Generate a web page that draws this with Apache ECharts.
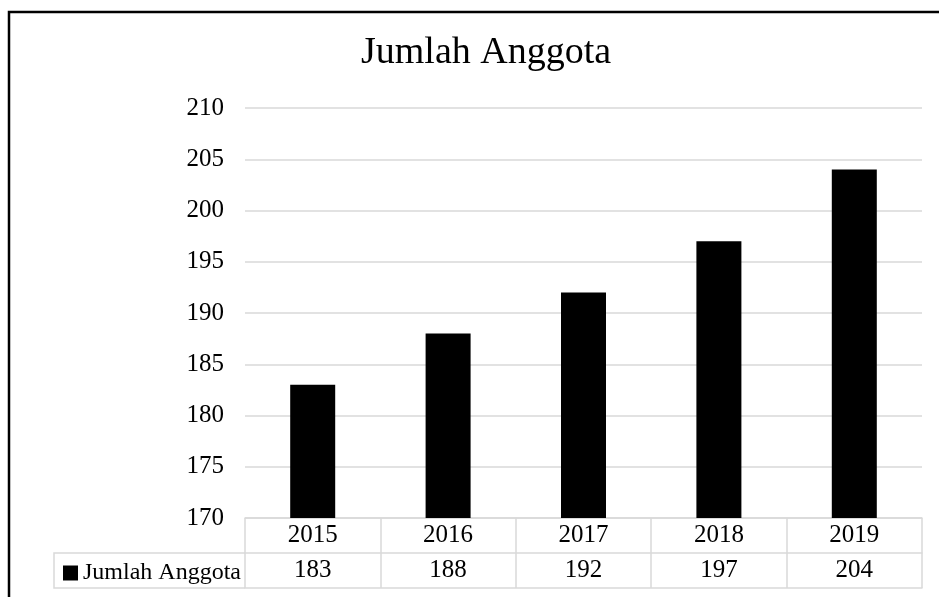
<!DOCTYPE html>
<html>
<head>
<meta charset="utf-8">
<script src="https://cdn.jsdelivr.net/npm/echarts@6/dist/echarts.min.js"></script>
<style>
html,body{margin:0;padding:0;background:#fff;}
#chart{width:939px;height:597px;}
</style>
</head>
<body>
<div id="chart"></div>
<script>
const titleText = 'Jumlah Anggota';
const seriesName = 'Jumlah Anggota';
const years = ['2015', '2016', '2017', '2018', '2019'];
const values = [183, 188, 192, 197, 204];
const yMin = 170, yMax = 210, yStep = 5;

const FONT = "'Liberation Serif', 'Times New Roman', serif";
const GRID_COLOR = '#d9d9d9';
const gridLeft = 245, gridRight = 17, gridTop = 108, gridBottom = 79;
const rowH = 35;
const H = 597;
const axisY = H - gridBottom;

const chart = echarts.init(document.getElementById('chart'));
chart.setOption({
  animation: false,
  backgroundColor: '#fff',
  title: {
    text: titleText,
    left: 356,
    top: 29,
    textStyle: {fontFamily: FONT, fontSize: 38, fontWeight: 'normal', color: '#000'}
  },
  legend: {
    data: [seriesName],
    left: 58,
    top: axisY + rowH + 3,
    icon: 'rect',
    itemWidth: 15,
    itemHeight: 15,
    textStyle: {fontFamily: FONT, fontSize: 24, color: '#000'}
  },
  grid: {left: gridLeft, right: gridRight, top: gridTop, bottom: gridBottom},
  xAxis: [
    {
      type: 'category', data: years, position: 'bottom',
      axisLine: {lineStyle: {color: GRID_COLOR, width: 1.5}},
      axisTick: {show: true, length: rowH * 2, lineStyle: {color: GRID_COLOR, width: 1.5}},
      axisLabel: {fontFamily: FONT, fontSize: 25, color: '#000', margin: 5, lineHeight: 25}
    },
    {
      type: 'category', data: years, position: 'bottom', offset: rowH,
      axisLine: {show: true, lineStyle: {color: GRID_COLOR, width: 1.5}},
      axisTick: {show: false},
      axisLabel: {fontFamily: FONT, fontSize: 25, color: '#000', margin: 5, lineHeight: 25,
        formatter: (v, i) => String(values[i])}
    },
    {
      type: 'category', data: years, position: 'bottom', offset: rowH * 2,
      axisLine: {show: true, lineStyle: {color: GRID_COLOR, width: 1.5}},
      axisTick: {show: false},
      axisLabel: {show: false}
    }
  ],
  yAxis: {
    type: 'value', min: yMin, max: yMax, interval: yStep,
    axisLine: {show: false}, axisTick: {show: false},
    axisLabel: {fontFamily: FONT, fontSize: 25, color: '#000', margin: 21},
    splitLine: {lineStyle: {color: GRID_COLOR, width: 1.5}}
  },
  series: [{
    name: seriesName, type: 'bar', data: values, barWidth: 45,
    itemStyle: {color: '#000'}
  }],
  graphic: [
    {type: 'rect', shape: {x: 9, y: 12, width: 1200, height: 1200},
      style: {fill: 'none', stroke: '#000', lineWidth: 2.5}, silent: true},
    {type: 'polyline', shape: {points: [[gridLeft, axisY + rowH], [54, axisY + rowH], [54, axisY + rowH * 2], [gridLeft, axisY + rowH * 2]]},
      style: {fill: 'none', stroke: GRID_COLOR, lineWidth: 1.5}, silent: true}
  ]
});
</script>
</body>
</html>
